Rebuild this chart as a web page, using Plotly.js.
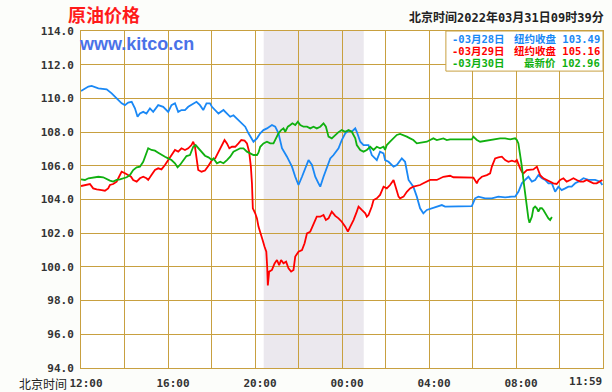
<!DOCTYPE html>
<html><head><meta charset="utf-8">
<script src="https://cdn.plot.ly/plotly-3.0.1.min.js"></script>
<style>html,body{margin:0;padding:0;background:#fcfdfa;}</style>
</head><body><div id="chart" style="width:612px;height:392px;"></div>
<script>
// hours since 12:00 (Beijing time)
const tickHours = [0,2,4,6,8,10,12,14,16,18,20,22,24];
const tickLabels = ['12:00','','16:00','','20:00','','00:00','','04:00','','08:00','',''];
const lastTickHour = [23.2];
const lastTickLabel = ['11:59'];

const mar28Hours = [0,0.34,0.49,0.8,1.18,1.41,1.64,1.87,2.02,2.17,2.33,2.48,2.6,2.71,2.86,3.01,3.17,3.32,3.55,3.78,4.01,4.16,4.32,4.47,4.62,4.78,4.93,5.16,5.31,5.47,5.62,5.77,5.93,6.02,6.17,6.32,6.55,6.71,6.86,7.01,7.24,7.4,7.55,7.7,7.93,8.09,8.24,8.39,8.55,8.78,8.93,9.08,9.24,9.47,9.7,9.85,10.0,10.16,10.31,10.46,10.62,10.77,10.92,11.0,11.15,11.31,11.46,11.61,11.76,11.84,11.99,12.15,12.3,12.45,12.61,12.68,12.84,12.99,13.22,13.37,13.6,13.75,13.91,13.98,14.14,14.37,14.52,14.75,14.9,15.06,15.28,15.44,15.59,15.74,15.9,16.13,16.43,16.59,16.74,16.97,17.4,17.97,18.12,18.27,18.58,18.89,19.19,19.5,19.81,19.96,20.11,20.27,20.42,20.57,20.73,20.88,21.03,21.19,21.34,21.49,21.65,21.8,21.95,22.1,22.26,22.41,22.56,22.72,22.87,23.1,23.33,23.64,23.87,23.97];
const mar28Prices = [110.44,110.7,110.74,110.6,110.54,110.3,110.0,109.71,109.6,109.75,109.8,109.41,108.91,109.1,109.2,109.1,109.41,109.2,109.6,109.5,109.2,109.6,109.71,109.2,109.31,109.31,109.5,109.71,109.8,109.6,109.31,109.71,109.71,109.5,109.31,109.1,109.31,109.1,108.91,109.0,108.72,108.52,108.32,107.93,107.43,107.63,107.93,108.12,108.22,108.42,108.32,107.93,107.04,106.54,105.95,105.35,104.86,105.35,105.85,106.34,106.05,105.35,104.96,104.76,105.35,105.95,106.44,106.64,106.94,107.04,107.53,107.93,108.08,108.02,108.22,108.02,107.43,107.23,107.23,106.64,106.34,106.84,106.74,106.34,106.24,105.95,106.05,106.44,106.24,105.16,104.76,104.17,103.48,103.18,103.38,103.48,103.58,103.67,103.58,103.58,103.6,103.61,104.07,104.17,104.07,104.07,104.17,104.13,104.17,104.17,104.46,104.96,105.16,105.35,105.06,105.16,105.45,105.26,105.16,104.96,104.96,104.46,104.76,104.56,104.66,104.76,104.76,104.96,105.06,105.26,105.16,105.16,105.06,104.86];

const mar29Hours = [0,0.18,0.41,0.56,0.72,0.95,1.1,1.25,1.33,1.48,1.64,1.75,1.87,2.02,2.17,2.3,2.4,2.56,2.71,2.86,3.01,3.09,3.24,3.4,3.55,3.7,3.86,4.01,4.16,4.32,4.47,4.62,4.78,4.93,5.08,5.16,5.24,5.31,5.39,5.54,5.7,5.86,6.02,6.17,6.32,6.48,6.6,6.71,6.82,6.94,7.09,7.24,7.37,7.52,7.63,7.73,7.81,7.86,7.9,8.01,8.09,8.16,8.24,8.35,8.44,8.52,8.56,8.59,8.65,8.78,8.9,9.01,9.11,9.2,9.31,9.43,9.54,9.66,9.77,9.85,10.0,10.16,10.28,10.39,10.54,10.69,10.84,11.0,11.15,11.26,11.38,11.53,11.69,11.84,11.99,12.15,12.27,12.38,12.53,12.68,12.76,12.91,13.07,13.14,13.22,13.37,13.45,13.6,13.75,13.91,14.06,14.21,14.37,14.44,14.52,14.6,14.67,14.83,14.98,15.13,15.28,15.44,15.59,15.74,15.9,16.05,16.36,16.51,16.66,16.97,17.12,18.04,18.12,18.2,18.27,18.43,18.66,18.81,18.89,19.04,19.19,19.35,19.5,19.65,19.81,19.96,20.04,20.11,20.19,20.27,20.34,20.5,20.65,20.8,20.96,21.03,21.11,21.26,21.41,21.57,21.72,21.87,22.03,22.18,22.33,22.49,22.64,22.79,22.95,23.1,23.25,23.4,23.56,23.71,23.87,23.97];
const mar29Prices = [104.8,104.86,104.92,104.66,104.6,104.56,104.52,104.66,104.86,104.92,105.06,105.35,105.65,105.56,105.45,105.35,105.16,105.06,105.26,105.35,105.26,105.16,105.45,105.75,105.85,105.79,106.05,106.34,106.64,106.94,106.84,107.04,106.94,107.04,107.23,107.43,107.13,106.34,105.75,105.65,105.72,106.0,106.34,106.44,106.84,107.23,107.53,107.33,107.04,107.13,107.13,107.33,107.53,107.49,107.33,106.84,105.95,104.96,103.48,103.18,102.88,102.39,101.99,101.6,101.2,100.9,100.01,98.9,99.72,99.82,100.21,100.41,100.11,100.41,100.21,100.31,99.92,99.72,99.82,100.61,100.9,101.0,101.4,101.99,102.09,102.59,102.98,102.98,103.08,102.78,102.88,103.28,103.03,102.88,102.68,102.39,102.09,102.39,102.78,103.28,103.58,103.38,103.18,102.98,103.08,103.58,103.97,104.07,104.27,104.76,104.66,104.86,105.16,104.86,104.56,104.17,104.07,104.17,104.46,104.66,104.76,104.8,104.86,104.96,105.06,105.16,105.16,105.26,105.35,105.41,105.32,105.3,105.16,104.96,105.16,105.35,105.45,105.55,105.95,106.44,106.5,106.54,106.34,106.24,106.3,106.24,106.34,106.05,105.85,105.65,105.55,105.75,105.75,105.79,105.95,105.75,105.45,105.26,105.16,105.06,104.96,104.92,105.16,105.26,105.06,105.16,105.26,105.16,105.06,105.06,105.16,105.06,104.96,104.96,105.06,105.16];

const mar30Hours = [0,0.18,0.34,0.56,0.8,1.02,1.18,1.33,1.48,1.64,1.79,1.94,2.1,2.25,2.4,2.56,2.71,2.86,2.97,3.09,3.24,3.4,3.55,3.7,3.86,4.01,4.16,4.32,4.44,4.55,4.7,4.85,5.01,5.16,5.27,5.39,5.54,5.7,5.86,6.02,6.09,6.25,6.4,6.55,6.71,6.86,7.01,7.17,7.32,7.47,7.63,7.78,7.93,8.09,8.16,8.24,8.39,8.55,8.7,8.85,8.96,9.08,9.2,9.31,9.39,9.51,9.62,9.72,9.85,9.97,10.08,10.23,10.39,10.54,10.69,10.84,11.0,11.15,11.26,11.38,11.53,11.69,11.84,11.99,12.15,12.3,12.45,12.61,12.68,12.84,12.99,13.14,13.3,13.45,13.6,13.75,13.91,13.98,14.06,14.21,14.37,14.52,14.67,14.83,14.98,15.13,15.28,15.44,15.59,15.74,15.9,16.05,16.2,16.36,16.51,16.66,16.82,16.97,17.5,17.97,18.04,18.2,18.35,18.58,18.81,19.04,19.27,19.5,19.73,19.96,20.04,20.11,20.19,20.27,20.34,20.42,20.5,20.57,20.62,20.73,20.8,20.88,20.96,21.03,21.11,21.19,21.26,21.34,21.41,21.49,21.57,21.65];
const mar30Prices = [105.2,105.16,105.26,105.32,105.35,105.32,105.2,105.12,105.06,105.16,105.2,105.26,105.32,105.45,105.75,105.91,105.95,106.24,106.64,107.04,106.94,106.9,106.78,106.64,106.54,106.44,106.34,106.15,105.91,106.05,106.34,106.58,106.64,107.13,107.23,107.04,106.84,106.6,106.5,106.34,106.44,106.15,106.24,106.15,106.34,106.54,106.84,106.94,107.04,107.04,106.84,106.74,106.64,106.64,106.78,107.13,107.33,107.43,107.33,107.33,107.63,107.93,108.12,108.22,108.02,108.32,108.42,108.52,108.42,108.62,108.42,108.32,108.32,108.22,108.32,108.22,108.32,108.52,108.32,107.73,107.63,107.83,108.0,108.12,108.02,108.12,108.02,107.63,107.23,106.94,106.84,106.94,107.13,106.94,107.13,107.04,107.13,106.94,107.23,107.43,107.63,107.83,107.89,107.83,107.73,107.63,107.53,107.33,107.37,107.43,107.43,107.53,107.63,107.53,107.57,107.63,107.53,107.57,107.57,107.57,107.73,107.53,107.43,107.49,107.53,107.57,107.63,107.63,107.57,107.63,107.53,107.33,106.74,105.95,105.16,104.27,103.48,102.88,102.62,102.98,103.48,103.58,103.48,103.28,103.48,103.48,103.38,103.18,103.08,102.88,102.78,102.96];

const seriesDates = ['03月28日','03月29日','03月30日'];
const seriesKinds = ['纽约收盘','纽约收盘','最新价'];
const seriesLast = ['103.49','105.16','102.96'];
const nightShade = [8.4, 13.0];

const colors = ['#1a88f5','#ff0000','#10b010'];
const gold = '#c8a040';
const mono = '"DejaVu Sans Mono", "Noto Sans CJK SC", monospace';
const cjk = '"Noto Sans CJK SC", "DejaVu Sans Mono", sans-serif';

const mk = (x, y, c) => ({x, y, type:'scatter', mode:'lines', line:{color:c, width:1.8}, hoverinfo:'skip', xaxis:'x', yaxis:'y'});
const traces = [
  mk(mar28Hours, mar28Prices, colors[0]),
  mk(mar29Hours, mar29Prices, colors[1]),
  mk(mar30Hours, mar30Prices, colors[2]),
  {x:[0,24], y:[null,null], type:'scatter', mode:'lines', xaxis:'x2', yaxis:'y', hoverinfo:'skip', showlegend:false}
];

const rowY = [0.976, 0.941, 0.905];
const annotations = [
  {xref:'paper', yref:'paper', x:-0.008, y:0.961, xanchor:'left', yanchor:'middle', showarrow:false,
   text:'www.kitco.cn', font:{family:'"Liberation Sans", Arial, sans-serif', size:18, weight:'bold', color:'#4a72e8'}},
  {xref:'paper', yref:'paper', x:1.006, y:1.039, xanchor:'right', yanchor:'middle', showarrow:false,
   text:'北京时间2022年03月31日09时39分', font:{family:mono, size:12, weight:'bold', color:'#222'}},
  {xref:'paper', yref:'paper', x:-0.123, y:-0.045, xanchor:'left', yanchor:'middle', showarrow:false,
   text:'北京时间', font:{family:cjk, size:12, color:'#222'}}
];
for (let i = 0; i < 3; i++) {
  annotations.push({xref:'paper', yref:'paper', x:0.706, y:rowY[i], xanchor:'left', yanchor:'middle', showarrow:false,
    text:'-' + seriesDates[i], font:{family:mono, size:10.5, weight:'bold', color:colors[i]}});
  annotations.push({xref:'paper', yref:'paper', x:0.999, y:rowY[i], xanchor:'right', yanchor:'middle', showarrow:false,
    text:seriesKinds[i] + ' ' + seriesLast[i], font:{family:mono, size:10.5, weight:'bold', color:colors[i]}});
}

const tickFont = {family:mono, size:11, weight:'bold', color:'#333'};
const layout = {
  width:612, height:392,
  margin:{l:81, r:9, t:31, b:24},
  paper_bgcolor:'#fcfdfa', plot_bgcolor:'#ffffff',
  showlegend:false,
  title:{text:'原油价格', xref:'container', yref:'container', x:68/612, xanchor:'left', y:1-16/392, yanchor:'middle',
         font:{family:cjk, size:18, weight:'bold', color:'#ff1a1a'}},
  xaxis:{range:[0,24], tickmode:'array', tickvals:tickHours, ticktext:tickLabels, showgrid:true, gridcolor:gold, gridwidth:1,
         zeroline:false, showline:true, mirror:true, linecolor:gold, linewidth:1, ticks:'', tickfont:tickFont,
         ticklabelshift:5, ticklabelstandoff:5, fixedrange:true},
  xaxis2:{overlaying:'x', matches:'x', anchor:'y', side:'bottom', range:[0,24], tickmode:'array', tickvals:lastTickHour, ticktext:lastTickLabel,
          showgrid:false, zeroline:false, showline:false, ticks:'', tickfont:tickFont, ticklabelstandoff:5},
  yaxis:{range:[94,114], dtick:2, tick0:94, tickformat:'.1f', showgrid:true, gridcolor:gold, gridwidth:1, zeroline:false,
         showline:true, mirror:true, linecolor:gold, linewidth:1, ticks:'', tickfont:tickFont, ticklabelstandoff:4, fixedrange:true},
  shapes:[
    {type:'rect', xref:'x', yref:'paper', x0:nightShade[0], x1:nightShade[1], y0:0, y1:1, fillcolor:'#ebe8ee', line:{width:0}, layer:'below'},
    {type:'rect', xref:'paper', yref:'paper', x0:0.699, x1:1, y0:0.881, y1:1, fillcolor:'#ffffff', line:{color:gold, width:1}, layer:'above'}
  ],
  annotations
};
Plotly.newPlot('chart', traces, layout, {staticPlot:true, displayModeBar:false});
</script></body></html>
